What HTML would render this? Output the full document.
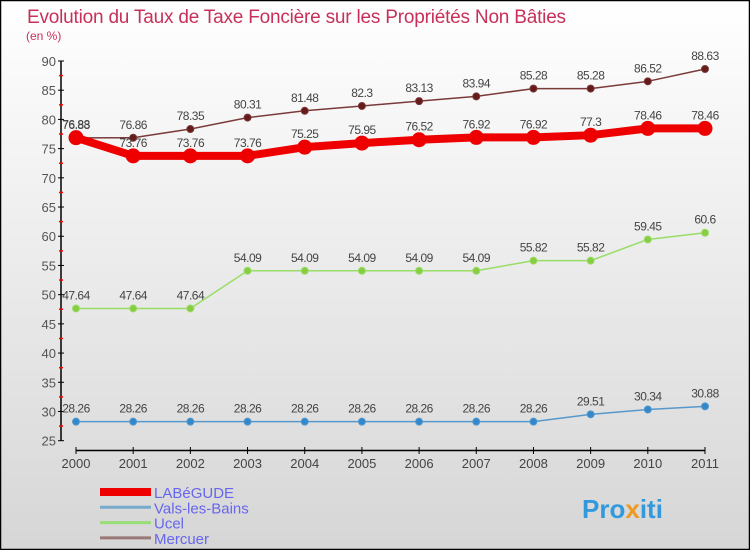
<!DOCTYPE html>
<html><head><meta charset="utf-8"><style>
html,body{margin:0;padding:0}
body{width:750px;height:550px;overflow:hidden;font-family:"Liberation Sans",sans-serif}
</style></head><body>
<svg id="chart" width="750" height="550" xmlns="http://www.w3.org/2000/svg">
<defs><linearGradient id="bg" x1="0" y1="0" x2="0" y2="1"><stop offset="0" stop-color="#ffffff"/><stop offset="1" stop-color="#d6d6d6"/></linearGradient></defs>
<rect x="0.5" y="0.5" width="749" height="549" fill="url(#bg)" stroke="#000" stroke-width="1.5"/>
<text x="27" y="23" font-size="19" letter-spacing="-0.2" fill="#c8305a">Evolution du Taux de Taxe Foncière sur les Propriétés Non Bâties</text>
<text x="26" y="40" font-size="12" fill="#c8305a">(en %)</text>
<g id="axes"></g>
<g id="series"></g>
<g id="legend"></g>
<text x="582" y="518" font-size="26" font-weight="bold" fill="#3399dd">Pro<tspan fill="#ee9922">x</tspan>iti</text>
</svg>
<script>
const years = ["2000","2001","2002","2003","2004","2005","2006","2007","2008","2009","2010","2011"];
const labegude = [76.88,73.76,73.76,73.76,75.25,75.95,76.52,76.92,76.92,77.3,78.46,78.46];
const vals = [28.26,28.26,28.26,28.26,28.26,28.26,28.26,28.26,28.26,29.51,30.34,30.88];
const ucel = [47.64,47.64,47.64,54.09,54.09,54.09,54.09,54.09,55.82,55.82,59.45,60.6];
const mercuer = [76.83,76.86,78.35,80.31,81.48,82.3,83.13,83.94,85.28,85.28,86.52,88.63];
const yTicks = [25,30,35,40,45,50,55,60,65,70,75,80,85,90];
const seriesNames = ["LABéGUDE","Vals-les-Bains","Ucel","Mercuer"];

const NS="http://www.w3.org/2000/svg";
function X(i){return 76+i*(705-76)/(years.length-1);}
function Y(v){return 440.7-(v-25)*(440.7-61)/65;}
function mk(tag,attrs,parent,text){const e=document.createElementNS(NS,tag);for(const k in attrs)e.setAttribute(k,attrs[k]);if(text!==undefined)e.textContent=text;parent.appendChild(e);return e;}
const axes=document.getElementById('axes');
let a=mk('line',{x1:61,y1:61,x2:61,y2:441,stroke:'#000','stroke-width':1.5},axes);


a=mk('line',{x1:76,y1:450.5,x2:705,y2:450.5,stroke:'#000','stroke-width':1.5},axes);


yTicks.forEach((t,i)=>{
  const y=Y(t);
  mk('line',{x1:58,y1:y,x2:64,y2:y,stroke:'#000'},axes);
  const tx=mk('text',{x:56,y:y+5,'font-size':13,fill:'#555','text-anchor':'end'},axes,String(t));
  
  
  if(i<yTicks.length-1){const ym=Y(t+2.5);mk('line',{x1:59,y1:ym,x2:63,y2:ym,stroke:'#f00','stroke-width':1.5},axes);}
});
years.forEach((yr,i)=>{
  mk('line',{x1:X(i),y1:447,x2:X(i),y2:454,stroke:'#000'},axes);
  const tx=mk('text',{x:X(i),y:468,'font-size':13,fill:'#444','text-anchor':'middle'},axes,yr);
  
  
});
const sg=document.getElementById('series');
function draw(data,name,color,w,r,fill){
  const g=mk('g',{},sg);
  
  
  const pts=data.map((v,i)=>X(i)+','+Y(v)).join(' ');
  mk('polyline',{points:pts,fill:'none',stroke:color,'stroke-width':w,'stroke-linejoin':'round'},g);
  data.forEach((v,i)=>{
    const c=mk('circle',{cx:X(i),cy:Y(v),r:r,fill:fill,stroke:color,'stroke-width':1},g);
    
    
    const t=mk('text',{x:X(i),y:Y(v)-9,'font-size':12,fill:'#444','text-anchor':'middle','letter-spacing':'-0.5'},g,String(v));
    
    
  });
}
draw(vals,'vals-les-bains','#5599cc',1.5,3.5,'#3388cc');
draw(ucel,'ucel','#99dd66',1.5,3.5,'#88cc44');
draw(mercuer,'mercuer','#7a3a3a',1.5,3.5,'#661a1a');
draw(labegude,'labegude','#ee0000',8,7,'#ee0000');
const lg=document.getElementById('legend');
const lcol=['#ee0000','#77aacc','#99dd77','#997777'];
const lw=[8,3,3,3];
seriesNames.forEach((n,i)=>{
  const y=492+i*15.3;
  const l=mk('line',{x1:100,y1:y,x2:151,y2:y,stroke:lcol[i],'stroke-width':lw[i]},lg);
  
  
  const t=mk('text',{x:154,y:y+6,'font-size':15,fill:'#6666ee'},lg,n);
  
  
});
</script>
</body></html>
